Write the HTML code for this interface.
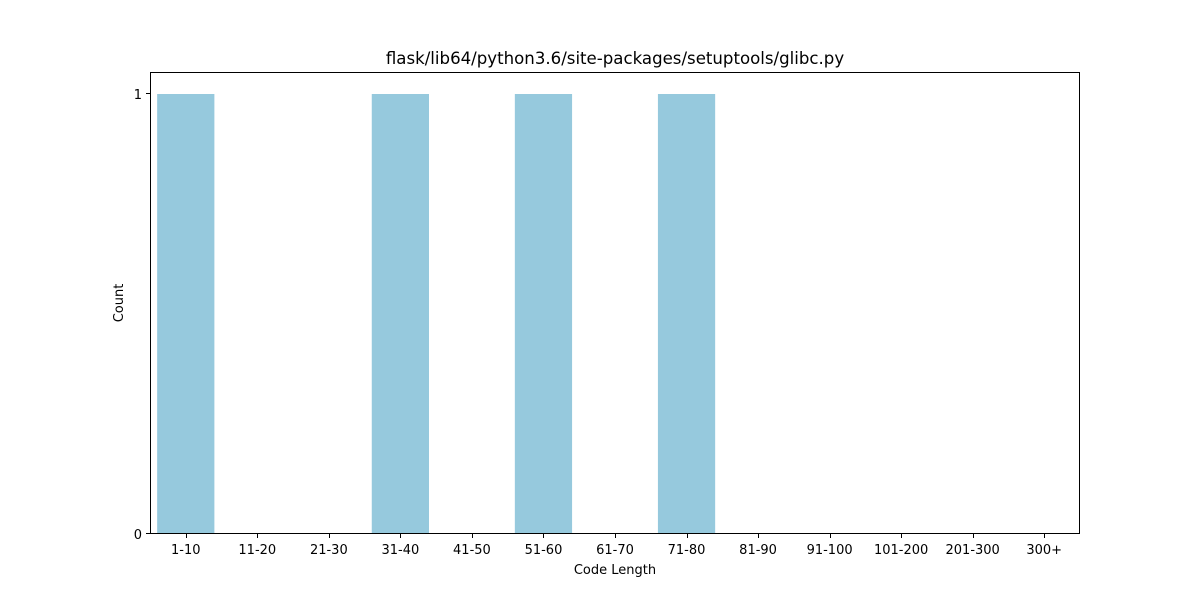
<!DOCTYPE html>
<html><head><meta charset="utf-8"><style>
body{margin:0;background:#fff;}
text{font-family:"DejaVu Sans","Liberation Sans",sans-serif;fill:#000;}
</style></head><body>
<svg id="chart" width="1200" height="600">
<rect width="1200" height="600" fill="#fff"/>
<text x="615" y="64" text-anchor="middle" font-size="16.6">flask/lib64/python3.6/site-packages/setuptools/glibc.py</text>
<g id="bars"></g>
<rect x="150.5" y="72.5" width="929" height="461" fill="none" stroke="#000" stroke-width="1"/>
<g id="xticks"></g><g id="yticks"></g>
<text x="615" y="574" text-anchor="middle" font-size="13">Code Length</text>
<text transform="translate(123,303) rotate(-90)" text-anchor="middle" font-size="13">Count</text>
</svg>
<script>
const categories=["1-10","11-20","21-30","31-40","41-50","51-60","61-70","71-80","81-90","91-100","101-200","201-300","300+"];
const counts=[1,0,0,1,0,1,0,1,0,0,0,0,0];
const yTicks=[0,1];
const L=150,R=1080,T=72,B=534,yMax=1.05;
const step=(R-L)/categories.length;
const xPos=i=>L+step*(i+0.5);
const yPos=v=>B-(B-T)*v/yMax;
const ns="http://www.w3.org/2000/svg";
const bars=document.getElementById('bars'),xt=document.getElementById('xticks'),yt=document.getElementById('yticks');
categories.forEach((c,i)=>{
  const bw=step*0.8;
  const r=document.createElementNS(ns,'rect');
  r.setAttribute('x',xPos(i)-bw/2);r.setAttribute('width',bw);
  r.setAttribute('y',yPos(counts[i]));r.setAttribute('height',B-yPos(counts[i]));
  r.setAttribute('fill','#96c9dd');
  
  
  bars.appendChild(r);
  const xp=Math.round(xPos(i))+0.5;
  const l=document.createElementNS(ns,'line');
  l.setAttribute('x1',xp);l.setAttribute('x2',xp);l.setAttribute('y1',B);l.setAttribute('y2',B+4);l.setAttribute('stroke','#000');
  
  
  xt.appendChild(l);
  const t=document.createElementNS(ns,'text');
  t.setAttribute('x',xPos(i));t.setAttribute('y',B+20);t.setAttribute('text-anchor','middle');t.setAttribute('font-size','13');
  t.textContent=c;
  
  
  xt.appendChild(t);
});
yTicks.forEach(v=>{
  const yp=Math.round(yPos(v))-0.5;
  const l=document.createElementNS(ns,'line');
  l.setAttribute('x1',L-4);l.setAttribute('x2',L);l.setAttribute('y1',yp);l.setAttribute('y2',yp);l.setAttribute('stroke','#000');
  
  
  yt.appendChild(l);
  const t=document.createElementNS(ns,'text');
  t.setAttribute('x',L-8);t.setAttribute('y',yPos(v)+5);t.setAttribute('text-anchor','end');t.setAttribute('font-size','13');
  t.textContent=v;
  
  
  yt.appendChild(t);
});
</script>
</body></html>
